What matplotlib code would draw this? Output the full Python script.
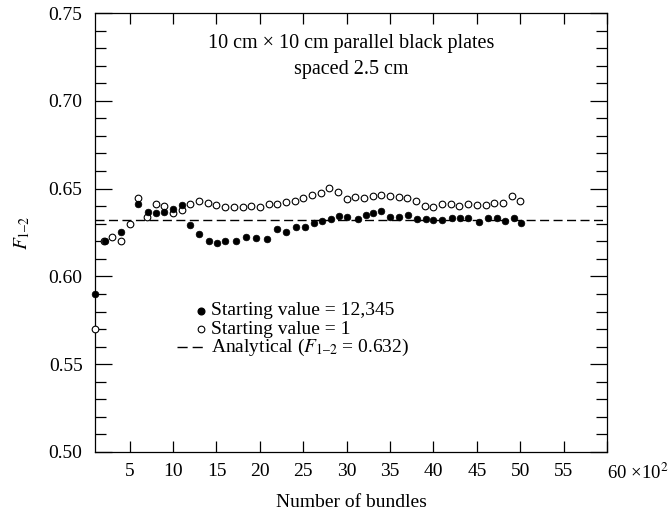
import matplotlib
matplotlib.use("Agg")
import matplotlib.pyplot as plt
import matplotlib.transforms as mtransforms
import numpy as np

plt.rcParams['font.family'] = ['Liberation Serif', 'DejaVu Serif']
plt.rcParams['mathtext.fontset'] = 'stix'
plt.rcParams['font.size'] = 14

# Data (x in hundreds of bundles)
open_x = list(range(1, 51))
open_y = [0.570, 0.620, 0.6227, 0.620, 0.630, 0.6447, 0.6337, 0.6413, 0.640, 0.636,
          0.638, 0.6415, 0.6428, 0.642, 0.6407, 0.6394, 0.6394, 0.6394, 0.6402, 0.6394,
          0.6411, 0.6415, 0.6424, 0.643, 0.6447, 0.6464, 0.6474, 0.6504, 0.648, 0.644,
          0.6455, 0.6447, 0.646, 0.6466, 0.6458, 0.6451, 0.6445, 0.6432, 0.640, 0.6398,
          0.6411, 0.6411, 0.640, 0.641, 0.6407, 0.6409, 0.642, 0.6417, 0.6457, 0.6432]

filled_x = [1, 2.2, 4.0, 6.0, 7.1, 8.0, 9.0, 10.0, 11.0, 12.0, 13.0, 14.1, 15.1, 16.0,
            17.3, 18.4, 19.6, 20.8, 22.0, 23.0, 24.2, 25.2, 26.2, 27.2, 28.2, 29.1, 30.0,
            31.3, 32.2, 33.0, 34.0, 35.0, 36.0, 37.1, 38.1, 39.1, 40.0, 41.0, 42.1, 43.1,
            44.0, 45.2, 46.3, 47.3, 48.2, 49.3, 50.1]
filled_y = [0.590, 0.620, 0.6253, 0.6413, 0.6367, 0.6362, 0.6366, 0.6381, 0.6404, 0.6293,
            0.6244, 0.620, 0.6189, 0.6204, 0.6204, 0.6223, 0.622, 0.6212, 0.6269, 0.6253,
            0.6284, 0.628, 0.6305, 0.6314, 0.6325, 0.6343, 0.634, 0.6326, 0.6349, 0.6362,
            0.637, 0.634, 0.6336, 0.6349, 0.6328, 0.6328, 0.632, 0.632, 0.6332, 0.6335,
            0.6333, 0.6311, 0.6334, 0.633, 0.6314, 0.6334, 0.6306]

analytical = 0.632
xticks = [5, 10, 15, 20, 25, 30, 35, 40, 45, 50, 55, 60]
xticklabels = ['5', '10', '15', '20', '25', '30', '35', '40', '45', '50', '55', '']
yticks = [0.50, 0.55, 0.60, 0.65, 0.70, 0.75]
yticklabels = ['0.50', '0.55', '0.60', '0.65', '0.70', '0.75']

fig = plt.figure(figsize=(6.7, 5.16), dpi=100)
ax = fig.add_axes([95/670, 64/516, 512/670, 439/516])

ax.axhline(analytical, color='black', lw=1.0, dashes=(6.5, 3.2), zorder=1)
ax.plot(open_x, open_y, 'o', ms=4.8, mfc='white', mec='black', mew=0.8, zorder=3,
        clip_on=False)
ax.plot(filled_x, filled_y, 'o', ms=4.8, mfc='black', mec='black', mew=0.5, zorder=4,
        clip_on=False)

ax.set_xlim(1, 60)
ax.set_ylim(0.50, 0.75)
ax.set_xticks(xticks)
ax.set_xticklabels(xticklabels)
ax.set_yticks(yticks)
ax.set_yticklabels(yticklabels)
ax.set_yticks(np.arange(0.50, 0.7501, 0.01), minor=True)

ax.tick_params(axis='both', which='both', direction='in', top=True, right=True,
               width=0.9, colors='black')
ax.tick_params(axis='x', which='major', length=7.7, pad=8)
ax.tick_params(axis='y', which='major', length=12, pad=9)
ax.tick_params(axis='y', which='minor', length=7.7)
for s in ax.spines.values():
    s.set_linewidth(0.9)

blend = mtransforms.blended_transform_factory(fig.transFigure, ax.transAxes)
ax.annotate('60 ×10$^2$', xy=(0.997, 0), xycoords=blend,
            xytext=(0, -8), textcoords='offset points', ha='right', va='top',
            fontsize=13.5)

ax.set_xlabel('Number of bundles', labelpad=10)
ax.set_ylabel(r'$F_{1\mathrm{–}2}$', labelpad=12)

ax.text(0.5, 0.930, '10 cm × 10 cm parallel black plates',
        transform=ax.transAxes, ha='center', va='center', fontsize=14.5)
ax.text(0.5, 0.872, 'spaced 2.5 cm',
        transform=ax.transAxes, ha='center', va='center', fontsize=14.5)

# Manual legend
leg_y = [0.5804, 0.570, 0.5596]
ax.plot([13.2], [leg_y[0]], 'o', ms=4.8, mfc='black', mec='black')
ax.plot([13.2], [leg_y[1]], 'o', ms=4.8, mfc='white', mec='black', mew=0.8)
ax.plot([10.4, 13.4], [leg_y[2], leg_y[2]], color='black', lw=1.0, dashes=(7.3, 3.6))
ax.text(14.4, leg_y[0], 'Starting value = 12,345', va='center', ha='left')
ax.text(14.4, leg_y[1], 'Starting value = 1', va='center', ha='left')
ax.text(14.4, leg_y[2], r'Analytical ($F_{1\mathrm{–}2}$ = 0.632)', va='center', ha='left')

fig.savefig('out.png', dpi=100)
